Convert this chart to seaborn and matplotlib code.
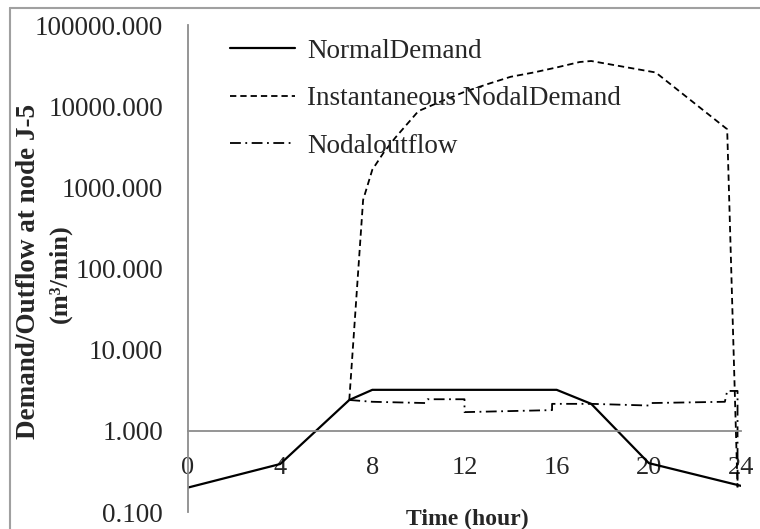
import numpy as np
import pandas as pd
import seaborn as sns
import matplotlib.pyplot as plt
from matplotlib.lines import Line2D
from matplotlib.ticker import NullLocator

sns.set_style("white")
plt.rcParams['font.family'] = ['Liberation Serif', 'DejaVu Serif']

# values (hour, m3/min)
normal_hour = [0, 4, 7, 8, 16, 17.5, 20, 24]
normal_demand = [0.2, 0.39, 2.4, 3.2, 3.2, 2.15, 0.4, 0.21]

inst_hour = [7, 7.6, 8, 8.5, 9, 10, 11, 12, 13, 14, 15, 16, 17, 17.5, 20.3, 23.4, 23.85]
inst_demand = [2.4, 700, 1650, 2700, 4100, 8700, 11500, 15000, 18700, 23000, 26000,
               30000, 35000, 36000, 26000, 5200, 0.2]

outflow_hour = [7, 8, 10.3, 10.4, 12, 12, 15.8, 15.8, 17.5, 20, 20.1, 23.3, 23.4, 23.85, 23.85]
outflow = [2.4, 2.28, 2.2, 2.45, 2.45, 1.7, 1.8, 2.15, 2.15, 2.05, 2.2, 2.28, 3.1, 3.1, 0.2]

x_ticks = [0, 4, 8, 12, 16, 20, 24]
y_ticks = [0.1, 1, 10, 100, 1000, 10000, 100000]

fig = plt.figure(figsize=(7.6, 5.29), dpi=100)
ax = fig.add_axes([188/760, 1-512/529, 553/760, 487/529])

df_n = pd.DataFrame({'hour': normal_hour, 'val': normal_demand})
df_i = pd.DataFrame({'hour': inst_hour, 'val': inst_demand})
df_o = pd.DataFrame({'hour': outflow_hour, 'val': outflow})

sns.lineplot(df_n, x='hour', y='val', sort=False, estimator=None, color='black',
             lw=1.6, label='NormalDemand', ax=ax)
sns.lineplot(df_i, x='hour', y='val', sort=False, estimator=None, color='black',
             lw=1.3, linestyle=(0, (3.5, 2.2)), label='Instantaneous NodalDemand', ax=ax)
sns.lineplot(df_o, x='hour', y='val', sort=False, estimator=None, color='black',
             lw=1.3, linestyle=(0, (6, 2.5, 1, 2.5)), label='Nodaloutflow', ax=ax)

ax.set_yscale('log')
ax.set_ylim(0.1, 100000)
ax.set_xlim(0, 24)
ax.set_xticks(x_ticks)
ax.set_xticklabels([str(t) for t in x_ticks])
ax.set_yticks(y_ticks)
ax.set_yticklabels([f"{v:.3f}" for v in y_ticks])
ax.yaxis.set_minor_locator(NullLocator())

for s in ['top', 'right']:
    ax.spines[s].set_visible(False)
ax.spines['bottom'].set_position(('data', 1))
for s in ['left', 'bottom']:
    ax.spines[s].set_color('#8c8c8c')
    ax.spines[s].set_linewidth(1.3)

ax.tick_params(axis='x', direction='out', length=7, width=1.2, color='#8c8c8c',
               pad=12, labelsize=19)
ax.tick_params(axis='y', direction='out', length=7, width=1.2, color='#8c8c8c',
               pad=11, labelsize=19.5)

ax.set_xlabel("Time (hour)", fontsize=17, fontweight='bold')
ax.xaxis.set_label_coords(0.505, 0.006)
# two-line y label: long line as the axis label, unit line as a separate text
ax.set_ylabel("Demand/Outflow at node J-5", fontsize=19.5, fontweight='bold',
              va='center', ha='center')
ax.yaxis.set_label_coords(-0.288, 0.493)
ax.text(-0.231, 0.489, "(m³/min)", transform=ax.transAxes, rotation=90,
        fontsize=19, fontweight='bold', va='center', ha='center')

ax.legend(loc='upper left', bbox_to_anchor=(0.076, 0.972), frameon=False, fontsize=19.5,
          handlelength=2.4, handletextpad=0.45, labelspacing=0.83, borderpad=0,
          borderaxespad=0)

# outer chart frame (left and top edges)
fig.add_artist(Line2D([10/760, 10/760], [0, 1-8/529], transform=fig.transFigure,
                      color='#a0a0a0', lw=1.5))
fig.add_artist(Line2D([10/760, 1], [1-8/529, 1-8/529], transform=fig.transFigure,
                      color='#a0a0a0', lw=1.5))

fig.savefig('out.png', dpi=100)
plt.close()
